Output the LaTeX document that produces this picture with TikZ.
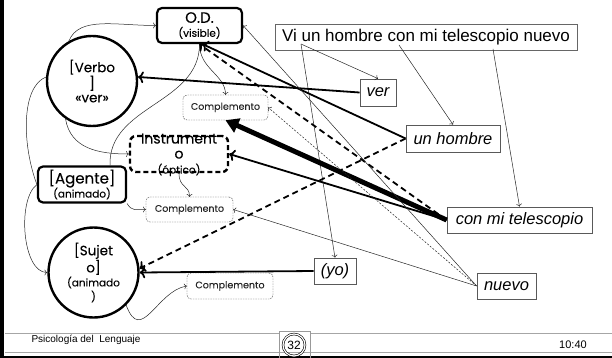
\documentclass[tikz,border=0pt]{standalone}
\usepackage{fontspec}
\setmainfont{Liberation Sans}
\newfontfamily\slotfont[FakeBold=0.1]{Poppins}
\usetikzlibrary{arrows.meta}
\newcommand\smallfont{\fontsize{10.5}{11}\selectfont}
\tikzset{
  slotbox/.style={draw, line width=2.2pt, rounded corners=5pt, inner sep=0pt,
    align=center, font=\slotfont\fontsize{14}{14.5}\selectfont},
  slotcircle/.style={draw, circle, line width=2.4pt, inner sep=0pt,
    minimum size=90pt, align=center, font=\slotfont\fontsize{13.5}{14}\selectfont},
  complbox/.style={draw=black!75, dash pattern=on 1.5pt off 1pt, rounded corners=4pt,
    minimum height=25pt, inner sep=0pt, text=black!85,
    font=\slotfont\fontsize{9.5}{10}\selectfont},
  wordbox/.style={draw=black!65, line width=0.8pt, inner sep=0pt,
    font=\itshape\fontsize{16.5}{18}\selectfont},
  thinlink/.style={->, line width=0.5pt, black!85},
  heavylink/.style={->, line width=1.8pt},
  heavydash/.style={heavylink, dash pattern=on 6pt off 4pt},
}
\begin{document}
\begin{tikzpicture}[x=1pt,y=-1pt]
  \useasboundingbox (0,0) rectangle (612,358);
  % slide frame and footer
  \draw[line width=3.5pt] (1.75,0) -- (1.75,358);
  \draw[black!35, line width=0.8pt] (5,333) -- (279,333) (310,333) -- (612,333);
  \draw[black!35, line width=0.8pt] (5,352.5) -- (612,352.5);
  \draw[line width=2pt] (0,357) -- (612,357);
  \node[anchor=west, font=\fontsize{10}{12}\selectfont] (footer) at (28,340) {Psicología del\ \ Lenguaje};
  \node[font=\fontsize{11}{13}\selectfont] (clock) at (573,345) {10:40};
  \node[draw=black!40, minimum width=31pt, minimum height=27pt] (pagebox) at (294.5,344.5) {};
  \node[draw, circle, double, double distance=1.2pt, line width=0.6pt, minimum size=22pt,
    inner sep=0pt, font=\fontsize{12}{14}\selectfont] (page) at (294,345) {32};
  % semantic slots
  \node[slotbox, minimum width=85pt, minimum height=35pt, font=\slotfont\fontsize{15}{14}\selectfont] (od) at (199.5,25.5) {O.D.\\{\smallfont(visible)}};
  \node[slotcircle] (verbo) at (92,81) {[Verbo\\]\\«ver»};
  \node[complbox, minimum width=85pt] (comp1) at (225.5,107.5) {Complemento};
  \node[align=center, font=\slotfont\fontsize{14}{15}\selectfont] (instr-text) at (179,155) {Instrument\\o\\{\smallfont(óptico)}};
  \node[draw, line width=2.4pt, dash pattern=on 5pt off 3pt, rounded corners=6pt,
    minimum width=98pt, minimum height=36pt] (instr) at (179,154) {};
  \node[slotbox, minimum width=88pt, minimum height=36pt, font=\slotfont\fontsize{15}{14}\selectfont] (agente) at (82,184.5) {[Agente]\\{\smallfont(animado)}};
  \node[complbox, minimum width=87pt] (comp2) at (189.5,209.5) {Complemento};
  \node[slotcircle] (sujeto) at (93.5,272.5) {[Sujet\\o]\\{\smallfont(animado}\\{\smallfont)}};
  \node[complbox, minimum width=86pt, minimum height=26pt] (comp3) at (230,286) {Complemento};
  % sentence and its words
  \node[draw=black!60, line width=0.8pt, minimum width=302pt, minimum height=26pt, inner sep=0pt,
    font=\fontsize{17}{19}\selectfont] (sentence) at (426,37) {Vi un hombre con mi telescopio nuevo};
  \coordinate (s-vi) at (301,44);
  \coordinate (s-con) at (399,45);
  \coordinate (s-nuevo) at (493,49);
  \node[wordbox, minimum width=36pt, minimum height=27pt] (ver) at (378,92.5) {ver};
  \node[wordbox, minimum width=94pt, minimum height=27pt] (unh) at (453,138.5) {un hombre};
  \node[wordbox, minimum width=145pt, minimum height=26pt] (conmi) at (519.5,220) {con mi telescopio};
  \node[wordbox, minimum width=42pt, minimum height=26pt] (yo) at (335,271) {(yo)};
  \node[wordbox, minimum width=59pt, minimum height=26pt] (nuevo) at (506.5,286) {nuevo};
  % links inside the frame
  \begin{scope}[thinlink]
    \draw (verbo.120) .. controls +(10,-25) and +(-40,0) .. (od.west);
    \draw (od.south) .. controls +(0,25) and +(0,-20) .. (comp1.north);
    \draw[-] (od.south) .. controls +(0,60) and +(-2,-60) .. ([xshift=28pt]agente.north);
    \draw (verbo.235) .. controls +(5,30) and +(-30,0) .. (instr.west);
    \draw[-] (verbo.175) .. controls +(-25,10) and +(-15,-40) .. (agente.west);
    \draw (agente.west) .. controls +(-20,15) and +(-25,0) .. (sujeto.west);
    \draw (instr.south) .. controls +(0,15) and +(0,-12) .. (comp2.north);
    \draw (agente.south east) .. controls +(5,8) and +(-10,0) .. (comp2.west);
    \draw (sujeto.-45) .. controls +(15,40) and +(-30,5) .. (comp3.west);
  \end{scope}
  % sentence to words
  \begin{scope}[thinlink]
    \draw (s-vi) -- (ver.north);
    \draw (s-vi) -- (yo.north);
    \draw (s-con) -- (unh.north);
    \draw (s-nuevo) -- (conmi.north);
  \end{scope}
  % words to slots
  \draw[heavylink] (ver.west) -- (verbo.5);
  \draw[heavylink] (unh.west) -- ([xshift=3pt]od.south);
  \draw[heavydash] (unh.west) -- (sujeto.5);
  \draw[heavylink] (yo.west) -- (sujeto.east);
  \draw[-{Triangle[length=13pt,width=15pt]}, line width=5pt] (conmi.west) -- (comp1.south);
  \draw[heavylink] (conmi.west) -- (instr.east);
  \draw[heavydash] (conmi.west) -- (od.south);
  \begin{scope}[thinlink]
    \draw (nuevo.west) -- (od.east);
    \draw (nuevo.west) -- (comp2.east);
    \draw[dash pattern=on 2pt off 1.5pt] (nuevo.west) -- (comp1.east);
  \end{scope}
\end{tikzpicture}
\end{document}
